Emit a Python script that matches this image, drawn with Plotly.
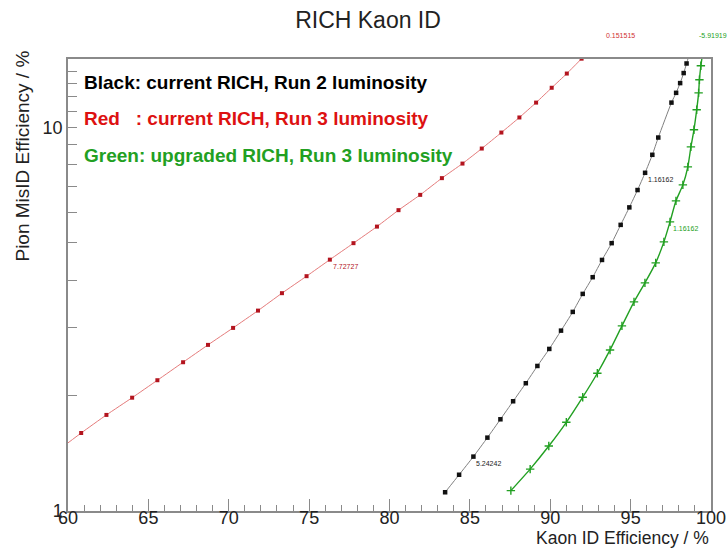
import math
import plotly.graph_objects as go

# ---------------- data ----------------
red_x = [59.2, 60.82, 62.39, 63.99, 65.56, 67.16, 68.71, 70.27, 71.82, 73.31, 74.84, 76.29,
         77.76, 79.22, 80.56, 81.91, 83.26, 84.54, 85.74, 86.96, 88.08, 89.12, 90.09, 91.03, 91.95]
red_y = [1.42, 1.597, 1.780, 1.974, 2.192, 2.442, 2.710, 3.001, 3.329, 3.696, 4.093, 4.52,
         4.990, 5.512, 6.083, 6.668, 7.372, 8.045, 8.805, 9.692, 10.61, 11.60, 12.68, 13.81, 15.1]

black_x = [83.46, 84.33, 85.22, 86.09, 86.90, 87.69, 88.48, 89.20, 89.94, 90.67, 91.40, 92.02,
           92.64, 93.22, 93.82, 94.38, 94.92, 95.43, 95.90, 96.35, 96.72, 97.54, 97.83, 98.08,
           98.30, 98.48, 98.65]
black_y = [1.119, 1.243, 1.386, 1.553, 1.734, 1.932, 2.153, 2.388, 2.645, 2.952, 3.303, 3.680,
           4.068, 4.512, 4.990, 5.569, 6.185, 6.864, 7.612, 8.480, 9.406, 11.60, 12.30, 13.04,
           13.85, 14.67, 15.5]

green_x = [87.55, 88.75, 89.91, 91.00, 92.02, 92.93, 93.72, 94.46, 95.21, 95.89, 96.56, 97.07,
           97.45, 97.82, 98.25, 98.56, 98.75, 98.94, 99.11, 99.23, 99.28, 99.37, 99.50]
green_y = [1.130, 1.286, 1.477, 1.703, 1.980, 2.286, 2.629, 3.037, 3.508, 3.932, 4.434, 5.029,
           5.670, 6.433, 7.080, 7.889, 8.896, 9.852, 11.11, 12.30, 13.30, 14.47, 15.8]

# cut-value labels (text, index of the point in its series)
red_label = ("7.72727", 11)
black_labels = [("5.24242", 2), ("1.16162", 18)]
green_label = ("1.16162", 12)
top_labels = [("0.151515", "red"), ("-5.91919", "green")]

x_ticks = [60, 65, 70, 75, 80, 85, 90, 95, 100]
y_ticks = [1, 10]
y_minor = [2, 3, 4, 5, 6, 7, 8, 9, 11, 12, 13, 14]

FONT = "Liberation Sans"
RED_LINE = "#e57b7b"
RED_MK = "#b3141e"
GREEN = "#22a022"
AXIS = "#8a8a8a"

ML, MR, MT, MB = 67.5, 16, 59, 37
W, H = 727, 548
PW, PH = W - ML - MR, H - MT - MB


def px_x(p):
    return (p - ML) / PW


def px_y(p):
    return (H - MB - p) / PH


fig = go.Figure()

fig.add_trace(go.Scatter(x=red_x, y=red_y, mode="lines+markers",
                         line=dict(color=RED_LINE, width=1, shape="spline", smoothing=0.5),
                         marker=dict(symbol="square", size=4, color=RED_MK)))
fig.add_trace(go.Scatter(x=black_x, y=black_y, mode="lines+markers",
                         line=dict(color="#808080", width=1, shape="spline", smoothing=0.5),
                         marker=dict(symbol="square", size=4.5, color="#111111")))
fig.add_trace(go.Scatter(x=green_x, y=green_y, mode="lines+markers",
                         line=dict(color=GREEN, width=1.4, shape="spline", smoothing=0.5),
                         marker=dict(symbol="cross-thin", size=6,
                                     line=dict(color=GREEN, width=1.4), color=GREEN)))

ann = []


def cut_label(txt, x, y, color):
    ann.append(dict(x=x, y=math.log10(y), xref="x", yref="y", text=txt, showarrow=False,
                    xanchor="left", yanchor="top", xshift=1, yshift=-1,
                    font=dict(family=FONT, size=7, color=color)))


cut_label(red_label[0], red_x[red_label[1]], red_y[red_label[1]], RED_MK)
for t, i in black_labels:
    cut_label(t, black_x[i], black_y[i], "#222222")
cut_label(green_label[0], green_x[green_label[1]], green_y[green_label[1]], GREEN)

# labels of points beyond the top edge
ann.append(dict(x=px_x(620), y=px_y(36), xref="paper", yref="paper", text=top_labels[0][0],
                showarrow=False, xanchor="center", yanchor="middle",
                font=dict(family=FONT, size=7, color="#d03030")))
ann.append(dict(x=px_x(697), y=px_y(36), xref="paper", yref="paper", text=top_labels[1][0],
                showarrow=False, xanchor="left", yanchor="middle",
                font=dict(family=FONT, size=7, color=GREEN)))

# legend-like texts
leg = [("Black: current RICH, Run 2 luminosity", "#000000", 82),
       ("Red\u00a0\u00a0\u00a0: current RICH, Run 3 luminosity", "#dd1111", 118),
       ("Green: upgraded RICH, Run 3 luminosity", "#22a022", 155)]
for txt, col, ypx in leg:
    ann.append(dict(x=px_x(82), y=px_y(ypx), xref="paper", yref="paper",
                    text="<b>" + txt + "</b>", showarrow=False, xanchor="left", yanchor="middle",
                    font=dict(family=FONT, size=19, color=col)))

# axis titles
ann.append(dict(x=px_x(711), y=px_y(537.5), xref="paper", yref="paper",
                text="Kaon ID Efficiency / %", showarrow=False, xanchor="right",
                yanchor="middle", font=dict(family=FONT, size=17.5, color="#222222")))
ann.append(dict(x=px_x(22), y=px_y(156), xref="paper", yref="paper",
                text="Pion MisID Efficiency / %", showarrow=False, xanchor="center",
                yanchor="middle", textangle=-90,
                font=dict(family=FONT, size=19, color="#222222")))

fig.update_layout(
    width=W, height=H,
    margin=dict(l=ML, r=MR, t=MT, b=MB, autoexpand=False),
    paper_bgcolor="white", plot_bgcolor="white",
    showlegend=False,
    title=dict(text="RICH Kaon ID", x=368 / W, xref="container", xanchor="center",
               y=1 - 20 / H, yref="container", yanchor="middle",
               font=dict(family=FONT, size=23, color="#222222")),
    annotations=ann,
    font=dict(family=FONT, color="#222222"),
)

fig.update_xaxes(range=[60, 100], tickvals=x_ticks, ticks="inside", ticklen=12, tickwidth=1,
                 tickcolor=AXIS, showline=True, linecolor=AXIS, linewidth=1.5, mirror=True,
                 showgrid=False, zeroline=False, automargin=False, ticklabelstandoff=-10,
                 tickfont=dict(family=FONT, size=18, color="#222222"),
                 minor=dict(dtick=1, ticks="inside", ticklen=6, tickcolor=AXIS, showgrid=False))
fig.update_yaxes(type="log", range=[0, math.log10(15.07)], tickvals=y_ticks,
                 ticktext=[str(v) for v in y_ticks],
                 ticks="inside", ticklen=9, tickwidth=1, tickcolor=AXIS,
                 showline=True, linecolor=AXIS, linewidth=1.5, mirror=True,
                 showgrid=False, zeroline=False, automargin=False,
                 tickfont=dict(family=FONT, size=18, color="#222222"),
                 minor=dict(tickvals=y_minor, ticks="inside", ticklen=9, tickcolor=AXIS,
                            showgrid=False))

fig.write_html("out.html",
               config={"displayModeBar": False},
               post_script="document.body.style.margin='0';document.body.style.overflow='hidden';")
